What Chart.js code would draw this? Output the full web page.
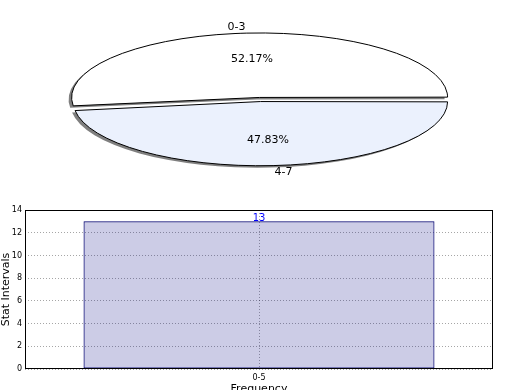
<!DOCTYPE html>
<html>
<head>
<meta charset="utf-8">
<script src="https://cdn.jsdelivr.net/npm/chart.js@4"></script>
<style>
html, body { margin: 0; padding: 0; background: #fff; }
#wrap { position: relative; width: 520px; height: 390px; overflow: hidden; }
#pieChart { position: absolute; left: 0; top: 0; }
#barChart { position: absolute; left: 0; top: 195px; }
</style>
</head>
<body>
<div id="wrap">
  <canvas id="pieChart" width="520" height="195"></canvas>
  <canvas id="barChart" width="520" height="205"></canvas>
</div>
<script>
// datos del pastel
const pieLabels = ['0-3', '4-7'];
const pieValues = [52.17, 47.83];
const pieColors = ['#ffffff', '#ebf1fd'];

// datos de la barra
const barLabels = ['0-5'];
const barValues = [13];
const yMax = 14;
const yStep = 2;

const FONT = '"DejaVu Sans", sans-serif';
const squash = 0.343; // alto / ancho de la elipse

// aplasta el pastel en una elipse, con sombra y borde fino
const ellipsePlugin = {
    id: 'ellipse',
    beforeDatasetsDraw(chart) {
        const ctx = chart.ctx;
        const arc = chart.getDatasetMeta(0).data[0];
        const cx = arc.x, cy = arc.y;
        const dpr = chart.currentDevicePixelRatio || 1;
        ctx.save();
        ctx.translate(cx, cy);
        ctx.scale(1, squash);
        ctx.translate(-cx, -cy);
        ctx.shadowColor = 'rgba(0, 0, 0, 0.5)';
        ctx.shadowOffsetX = -3;
        ctx.shadowOffsetY = 2;
        ctx.shadowBlur = 0;
        const stroke = CanvasRenderingContext2D.prototype.stroke;
        ctx.stroke = function () {
            this.save();
            this.setTransform(dpr, 0, 0, dpr, 0, 0);
            this.shadowColor = 'rgba(0, 0, 0, 0)';
            stroke.call(this);
            this.restore();
        };
    },
    afterDatasetsDraw(chart) {
        const ctx = chart.ctx;
        delete ctx.stroke;
        ctx.restore();
        // etiquetas y porcentajes
        const arcs = chart.getDatasetMeta(0).data;
        ctx.save();
        ctx.font = '11px ' + FONT;
        ctx.fillStyle = '#000';
        ctx.textBaseline = 'middle';
        arcs.forEach((arc, i) => {
            const mid = (arc.startAngle + arc.endAngle) / 2;
            const off = (arc.options.offset || 0) / 4;
            const r = arc.outerRadius + off;
            const ox = arc.x + Math.cos(mid) * off;
            const oy = arc.y + Math.sin(mid) * off * squash;
            const lx = ox + Math.cos(mid) * r * 1.1;
            const ly = oy + Math.sin(mid) * r * 1.1 * squash;
            ctx.textAlign = Math.cos(mid) < 0 ? 'right' : 'left';
            ctx.fillText(pieLabels[i], lx, ly);
            const px = ox + Math.cos(mid) * r * 0.6;
            const py = oy + Math.sin(mid) * r * 0.6 * squash;
            ctx.textAlign = 'center';
            ctx.fillText(pieValues[i].toFixed(2) + '%', px, py);
        });
        ctx.restore();
    }
};

const pieCtx = document.getElementById('pieChart').getContext('2d');
const pieChart = new Chart(pieCtx, {
    type: 'pie',
    data: {
        labels: pieLabels,
        datasets: [{
            data: pieValues,
            backgroundColor: pieColors,
            borderColor: '#000000',
            borderWidth: 1,
            offset: 24,
            hoverOffset: 24
        }]
    },
    options: {
        responsive: false,
        animation: false,
        events: [],
        radius: 182,
        rotation: 262.2,
        layout: { padding: { top: 4 } },
        plugins: {
            legend: { display: false },
            tooltip: { enabled: false }
        }
    },
    plugins: [ellipsePlugin]
});

// marco negro y valor encima de la barra
const framePlugin = {
    id: 'frame',
    afterDraw(chart) {
        const ctx = chart.ctx;
        const a = chart.chartArea;
        ctx.save();
        ctx.strokeStyle = '#000';
        ctx.lineWidth = 1;
        ctx.strokeRect(Math.round(a.left) + 0.5, Math.round(a.top) + 0.5,
            Math.round(a.right - a.left) - 1, Math.round(a.bottom - a.top) - 1);
        const bars = chart.getDatasetMeta(0).data;
        ctx.font = '10px ' + FONT;
        ctx.fillStyle = '#0000ff';
        ctx.textAlign = 'center';
        ctx.textBaseline = 'bottom';
        bars.forEach((bar, i) => {
            ctx.fillText(String(barValues[i]), bar.x, bar.y + 2);
        });
        ctx.restore();
    }
};

const barCtx = document.getElementById('barChart').getContext('2d');
const barChart = new Chart(barCtx, {
    type: 'bar',
    data: {
        labels: barLabels,
        datasets: [{
            data: barValues,
            backgroundColor: 'rgba(0, 0, 128, 0.2)',
            borderColor: '#000070',
            borderWidth: 1,
            borderSkipped: false,
            barPercentage: 0.75,
            categoryPercentage: 1
        }]
    },
    options: {
        responsive: false,
        animation: false,
        events: [],
        layout: { padding: { top: 15, right: 27, left: 0, bottom: 0 } },
        plugins: {
            legend: { display: false },
            tooltip: { enabled: false }
        },
        scales: {
            x: {
                offset: true,
                border: { display: false, dash: [1, 2] },
                grid: {
                    offset: false,
                    drawTicks: false,
                    color: 'rgba(0, 0, 0, 0.35)'
                },
                ticks: { color: '#000', font: { size: 8, family: FONT }, padding: 4 },
                title: {
                    display: true,
                    text: 'Frequency',
                    color: '#000',
                    font: { size: 11, family: FONT },
                    padding: { top: 0, bottom: 4 }
                },
                afterFit(scale) { scale.height = 31; }
            },
            y: {
                min: 0,
                max: yMax,
                border: { display: false, dash: [1, 2] },
                grid: {
                    drawTicks: false,
                    color: 'rgba(0, 0, 0, 0.35)'
                },
                ticks: { stepSize: yStep, color: '#000', font: { size: 8, family: FONT }, padding: 3 },
                title: {
                    display: true,
                    text: 'Stat Intervals',
                    color: '#000',
                    font: { size: 11, family: FONT },
                    padding: 0
                },
                afterFit(scale) { scale.width = 25; }
            }
        }
    },
    plugins: [framePlugin]
});
</script>
</body>
</html>
